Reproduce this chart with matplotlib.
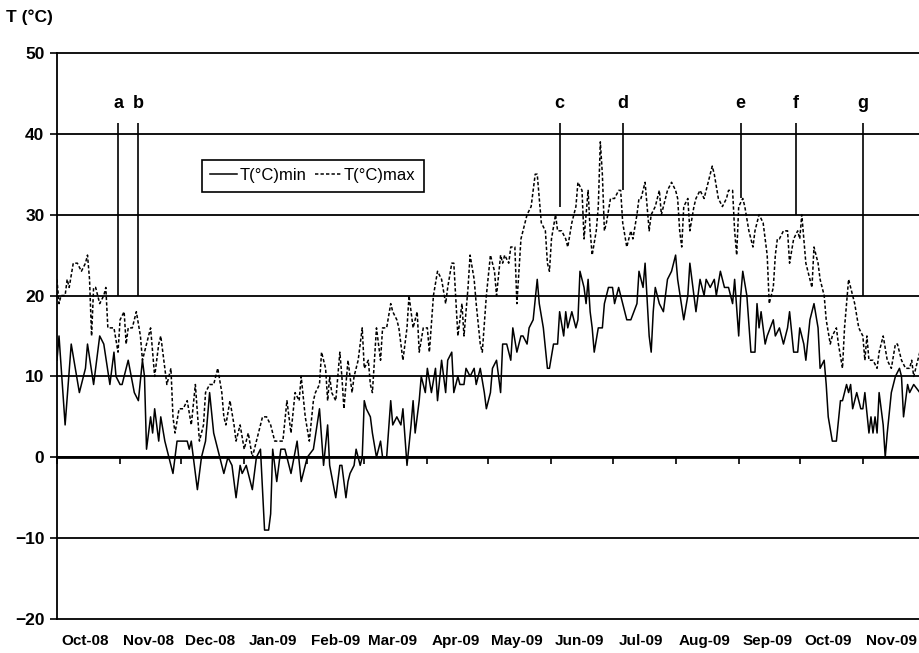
import matplotlib
matplotlib.use('Agg')
import matplotlib.pyplot as plt
import pandas as pd

plt.rcParams['font.family'] = ['Liberation Sans', 'DejaVu Sans']

# days counted from 1 Oct 2008
start = pd.Timestamp('2008-10-01')

min_days = [0, 1, 4, 7, 11, 14, 15, 18, 21, 23, 26, 28, 29, 31, 32, 35, 38, 40, 42, 43,
            44, 46, 47, 48, 50, 51, 53, 55, 57, 59, 60, 64, 65, 66, 69, 71, 73, 75, 77, 80,
            82, 84, 86, 88, 90, 91, 93, 96, 98, 100, 102, 104, 105, 106, 108, 110, 112, 115, 118, 120,
            123, 126, 129, 131, 133, 134, 137, 139, 140, 142, 143, 144, 146, 147, 149, 150, 151, 152, 154, 155,
            157, 159, 160, 162, 164, 165, 167, 169, 170, 172, 174, 175, 176, 178, 179, 181, 182, 184, 186, 187,
            189, 191, 192, 194, 195, 197, 198, 200, 201, 203, 205, 206, 208, 210, 211, 213, 214, 216, 218, 219,
            221, 223, 224, 226, 228, 229, 231, 232, 234, 236, 237, 239, 241, 242, 244, 246, 247, 249, 250, 251,
            253, 255, 256, 257, 259, 260, 261, 262, 263, 264, 266, 268, 269, 271, 273, 274, 276, 278, 280, 282,
            285, 286, 288, 289, 291, 292, 293, 294, 296, 298, 299, 300, 302, 304, 305, 308, 310, 311, 313, 314,
            316, 318, 319, 321, 323, 324, 326, 328, 330, 332, 333, 335, 336, 337, 339, 341, 343, 344, 345, 346,
            348, 349, 352, 353, 355, 357, 359, 360, 362, 364, 365, 367, 368, 370, 372, 374, 375, 377, 378, 379,
            381, 383, 385, 386, 388, 389, 390, 391, 393, 395, 396, 397, 399, 400, 401, 402, 403, 404, 406, 407,
            408, 410, 412, 414, 415, 416, 418, 419, 421, 424]
min_vals = [12, 15, 4, 14, 8, 11, 14, 9, 15, 14, 9, 13, 10, 9, 9, 12, 8, 7, 12, 10,
            1, 5, 3, 6, 2, 5, 2, 0, -2, 2, 2, 2, 1, 2, -4, 0, 2, 8, 3, 0,
            -2, 0, -1, -5, -1, -2, -1, -4, 0, 1, -9, -9, -7, 1, -3, 1, 1, -2, 2, -3,
            0, 1, 6, -1, 4, -1, -5, -1, -1, -5, -3, -2, -1, 1, -1, 0, 7, 6, 5, 3,
            0, 2, 0, 0, 7, 4, 5, 4, 6, -1, 4, 7, 3, 7, 10, 8, 11, 8, 11, 7,
            12, 8, 12, 13, 8, 10, 9, 9, 11, 10, 11, 9, 11, 8, 6, 8, 11, 12, 8, 14,
            14, 12, 16, 13, 15, 15, 14, 16, 17, 22, 19, 16, 11, 11, 14, 14, 18, 15, 18, 16,
            18, 16, 17, 23, 21, 19, 22, 18, 16, 13, 16, 16, 19, 21, 21, 19, 21, 19, 17, 17,
            19, 23, 21, 24, 15, 13, 18, 21, 19, 18, 20, 22, 23, 25, 22, 17, 20, 24, 20, 18,
            22, 20, 22, 21, 22, 20, 23, 21, 21, 19, 22, 15, 20, 23, 20, 13, 13, 19, 16, 18,
            14, 15, 17, 15, 16, 14, 16, 18, 13, 13, 16, 14, 12, 17, 19, 16, 11, 12, 9, 5,
            2, 2, 7, 7, 9, 8, 9, 6, 8, 6, 6, 8, 3, 5, 3, 5, 3, 8, 4, 0,
            3, 8, 10, 11, 10, 5, 9, 8, 9, 8]

max_days = [0, 1, 2, 4, 5, 6, 8, 10, 12, 14, 15, 16, 17, 18, 19, 21, 23, 24, 25, 27,
            28, 30, 31, 33, 34, 35, 37, 39, 41, 42, 44, 46, 48, 50, 51, 53, 54, 56, 57, 58,
            60, 62, 64, 66, 68, 70, 72, 73, 75, 77, 79, 81, 82, 83, 85, 87, 88, 90, 92, 94,
            96, 97, 99, 101, 103, 105, 107, 111, 113, 115, 117, 119, 120, 122, 124, 126, 127, 129, 130, 132,
            133, 134, 135, 137, 139, 140, 141, 143, 145, 146, 148, 150, 151, 153, 154, 155, 157, 159, 160, 162,
            164, 165, 167, 168, 170, 172, 173, 175, 177, 178, 180, 182, 183, 185, 187, 189, 191, 192, 194, 195,
            197, 199, 200, 202, 203, 205, 206, 208, 209, 211, 213, 214, 215, 216, 218, 219, 220, 222, 223, 225,
            226, 228, 229, 231, 233, 235, 236, 238, 240, 241, 242, 243, 245, 246, 248, 250, 251, 253, 255, 256,
            258, 259, 261, 262, 263, 265, 266, 267, 268, 269, 270, 272, 274, 276, 277, 278, 280, 282, 283, 285,
            286, 287, 289, 290, 291, 292, 294, 296, 297, 299, 300, 302, 304, 305, 306, 307, 308, 310, 311, 313,
            314, 316, 318, 319, 321, 322, 323, 325, 327, 329, 330, 332, 333, 334, 335, 337, 338, 340, 342, 343,
            345, 347, 349, 350, 352, 353, 354, 355, 357, 359, 360, 362, 364, 365, 366, 368, 369, 371, 372, 374,
            375, 377, 378, 380, 381, 383, 384, 386, 387, 389, 391, 392, 394, 396, 397, 398, 399, 401, 403, 404,
            406, 408, 410, 412, 413, 415, 417, 419, 420, 421, 423, 424]
max_vals = [22, 19, 20, 20, 22, 21, 24, 24, 23, 24, 25, 22, 15, 21, 21, 19, 20, 21, 16, 16,
            16, 13, 17, 18, 14, 16, 16, 18, 15, 12, 14, 16, 10, 14, 15, 11, 9, 11, 5, 3,
            6, 6, 7, 4, 9, 2, 4, 8, 9, 9, 11, 8, 5, 4, 7, 4, 2, 4, 1, 3,
            0, 1, 3, 5, 5, 4, 2, 2, 7, 3, 8, 7, 10, 5, 2, 7, 8, 9, 13, 11,
            7, 10, 8, 7, 13, 10, 6, 12, 8, 10, 12, 16, 11, 12, 9, 8, 16, 12, 16, 16,
            19, 18, 17, 16, 12, 16, 20, 16, 18, 13, 16, 16, 13, 20, 23, 22, 19, 21, 24, 24,
            15, 19, 15, 21, 25, 22, 19, 14, 13, 20, 25, 24, 23, 20, 25, 24, 25, 24, 26, 26,
            19, 27, 28, 30, 31, 35, 35, 29, 28, 24, 23, 27, 30, 28, 28, 27, 26, 29, 31, 34,
            33, 27, 33, 28, 25, 28, 31, 39, 35, 28, 29, 32, 32, 33, 33, 29, 26, 28, 27, 30,
            32, 32, 34, 31, 28, 30, 31, 33, 30, 32, 33, 34, 33, 32, 28, 26, 31, 32, 28, 31,
            32, 33, 32, 33, 35, 36, 35, 32, 31, 32, 33, 33, 28, 25, 31, 32, 31, 28, 26, 28,
            30, 29, 25, 19, 21, 25, 27, 27, 28, 28, 24, 27, 28, 27, 30, 24, 23, 21, 26, 24,
            22, 20, 17, 14, 15, 16, 14, 11, 16, 22, 20, 19, 16, 15, 12, 15, 12, 12, 11, 13,
            15, 12, 11, 14, 14, 12, 11, 11, 12, 10, 12, 13]

event_labels = ['a', 'b', 'c', 'd', 'e', 'f', 'g']
event_days = [30, 40, 247, 278, 336, 363, 396]
event_low = [20, 20, 31, 33, 32, 30, 20]
event_high = 41.3

month_starts = pd.date_range('2008-10-01', '2009-11-01', freq='MS')

t_min = start + pd.to_timedelta(min_days, unit='D')
t_max = start + pd.to_timedelta(max_days, unit='D')
t_ev = start + pd.to_timedelta(event_days, unit='D')

fig = plt.figure(figsize=(9.19, 6.53), dpi=100)
ax = fig.add_axes([0.062, 0.052, 0.938, 0.867])

ax.plot(t_min, min_vals, color='black', lw=1.1, label='T(°C)min')
ax.plot(t_max, max_vals, color='black', lw=1.1, linestyle=(0, (2.2, 1.4)), label='T(°C)max')

ax.vlines(t_ev, event_low, event_high, color='black', lw=1.2)
for lab, t in zip(event_labels, t_ev):
    ax.text(t, 43.8, lab, ha='center', va='center', fontsize=13, fontweight='bold')

ax.set_ylim(-20, 50)
ax.set_yticks(range(-20, 51, 10))
ax.set_xlim(start, start + pd.Timedelta(days=423.6))

ax.yaxis.grid(True, color='black', lw=1.3)
for gl in ax.get_ygridlines():
    gl.set_clip_on(False)

for s in ['top', 'right']:
    ax.spines[s].set_visible(False)
ax.spines['left'].set_linewidth(1.3)
ax.spines['bottom'].set_position(('data', 0))
ax.spines['bottom'].set_linewidth(2)

ax.set_xticks(month_starts)
ax.tick_params(axis='x', direction='out', length=5, width=1.2, labelbottom=False)
ax.tick_params(axis='y', direction='out', length=5, width=1.2, labelsize=12.5, pad=4)
for lbl in ax.get_yticklabels():
    lbl.set_fontweight('bold')

# month labels centred in each month, below the plot
for m in month_starts:
    mid = m + pd.Timedelta(days=14)
    ax.text(mid, -0.039, m.strftime('%b-%y'), transform=ax.get_xaxis_transform(),
            ha='center', va='center', fontsize=11, fontweight='bold')

fig.text(0.032, 0.973, 'T (°C)', ha='center', va='center', fontsize=12.5, fontweight='bold')

leg = ax.legend(loc='upper left', bbox_to_anchor=(0.168, 0.811), borderaxespad=0,
                ncol=2, fontsize=12, handlelength=1.6, handletextpad=0.15,
                columnspacing=0.5, borderpad=0.5, fancybox=False, framealpha=1)
leg.get_frame().set_edgecolor('black')
leg.get_frame().set_linewidth(1.2)

fig.savefig('out.png', dpi=100)
